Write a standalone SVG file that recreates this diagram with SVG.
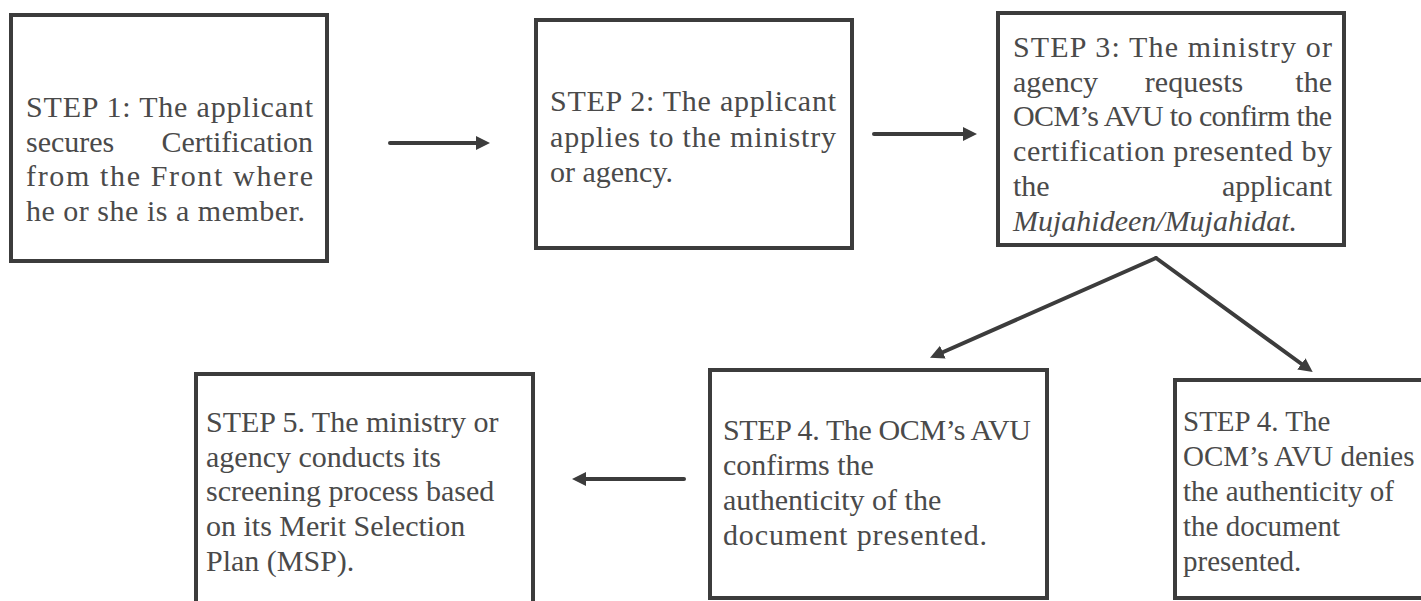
<svg xmlns="http://www.w3.org/2000/svg" width="1421" height="601" viewBox="0 0 1421 601">
<style>
.box{fill:#ffffff;stroke:#3c3c3c;stroke-width:4}
.t{font-family:"Liberation Serif","Times New Roman",serif;font-size:30px;fill:#4a4a4a}
.c{font-size:29px}
.i{font-style:italic}
.e{text-anchor:end}
.conn{stroke:#3c3c3c;stroke-width:4;fill:none;stroke-linecap:round}
</style>
<defs>
<marker id="ah" markerUnits="userSpaceOnUse" markerWidth="16" markerHeight="16" refX="2" refY="7" orient="auto">
<path d="M0,0 L14,7 L0,14 z" fill="#3c3c3c"/>
</marker>
</defs>
<rect width="1421" height="601" fill="#ffffff"/>
<g id="connectors">
<line class="conn" x1="390" y1="143" x2="478" y2="143" marker-end="url(#ah)"/>
<line class="conn" x1="874" y1="134" x2="965" y2="134" marker-end="url(#ah)"/>
<line class="conn" x1="684" y1="479" x2="584" y2="479" marker-end="url(#ah)"/>
<path class="conn" d="M1156,258 L941,353" marker-end="url(#ah)"/>
<path class="conn" d="M1156,258 L1303,365" marker-end="url(#ah)"/>
</g>
<g id="step1">
<rect class="box" x="11" y="15" width="316" height="246"/>
<text class="t" x="26" y="117" textLength="287" lengthAdjust="spacing">STEP 1: The applicant</text>
<text class="t" x="26" y="152">secures</text>
<text class="t e" x="313" y="152">Certification</text>
<text class="t" x="26" y="186" textLength="287" lengthAdjust="spacing">from the Front where</text>
<text class="t" x="26" y="221" textLength="279" lengthAdjust="spacing">he or she is a member.</text>
</g>
<g id="step2">
<rect class="box" x="536" y="20" width="316" height="228"/>
<text class="t" x="550" y="111" textLength="286" lengthAdjust="spacing">STEP 2: The applicant</text>
<text class="t" x="550" y="147" textLength="286" lengthAdjust="spacing">applies to the ministry</text>
<text class="t" x="550" y="182">or agency.</text>
</g>
<g id="step3">
<rect class="box" x="998" y="13" width="346" height="232"/>
<text class="t" x="1013" y="57" textLength="319" lengthAdjust="spacing">STEP 3: The ministry or</text>
<text class="t" x="1013" y="92">agency</text>
<text class="t" x="1194" y="92" text-anchor="middle">requests</text>
<text class="t e" x="1332" y="92">the</text>
<text class="t" x="1013" y="126" textLength="319" lengthAdjust="spacing">OCM’s AVU to confirm the</text>
<text class="t" x="1013" y="161" textLength="319" lengthAdjust="spacing">certification presented by</text>
<text class="t" x="1013" y="196">the</text>
<text class="t e" x="1332" y="196">applicant</text>
<text class="t i" x="1013" y="231">Mujahideen/Mujahidat.</text>
</g>
<g id="step4-confirm">
<rect class="box" x="710" y="370" width="337" height="228"/>
<text class="t" x="723" y="440" textLength="308" lengthAdjust="spacing">STEP 4. The OCM’s AVU</text>
<text class="t" x="723" y="475">confirms the</text>
<text class="t" x="723" y="510">authenticity of the</text>
<text class="t" x="723" y="545" textLength="264" lengthAdjust="spacing">document presented.</text>
</g>
<g id="step4-deny">
<rect class="box" x="1175" y="380" width="300" height="218"/>
<text class="t c" x="1183" y="431">STEP 4. The</text>
<text class="t c" x="1183" y="466">OCM’s AVU denies</text>
<text class="t c" x="1183" y="501">the authenticity of</text>
<text class="t c" x="1183" y="536">the document</text>
<text class="t c" x="1183" y="571">presented.</text>
</g>
<g id="step5">
<rect class="box" x="196" y="374" width="337" height="260"/>
<text class="t" x="206" y="432">STEP 5. The ministry or</text>
<text class="t" x="206" y="467">agency conducts its</text>
<text class="t" x="206" y="501">screening process based</text>
<text class="t" x="206" y="536">on its Merit Selection</text>
<text class="t" x="206" y="571">Plan (MSP).</text>
</g>
</svg>
